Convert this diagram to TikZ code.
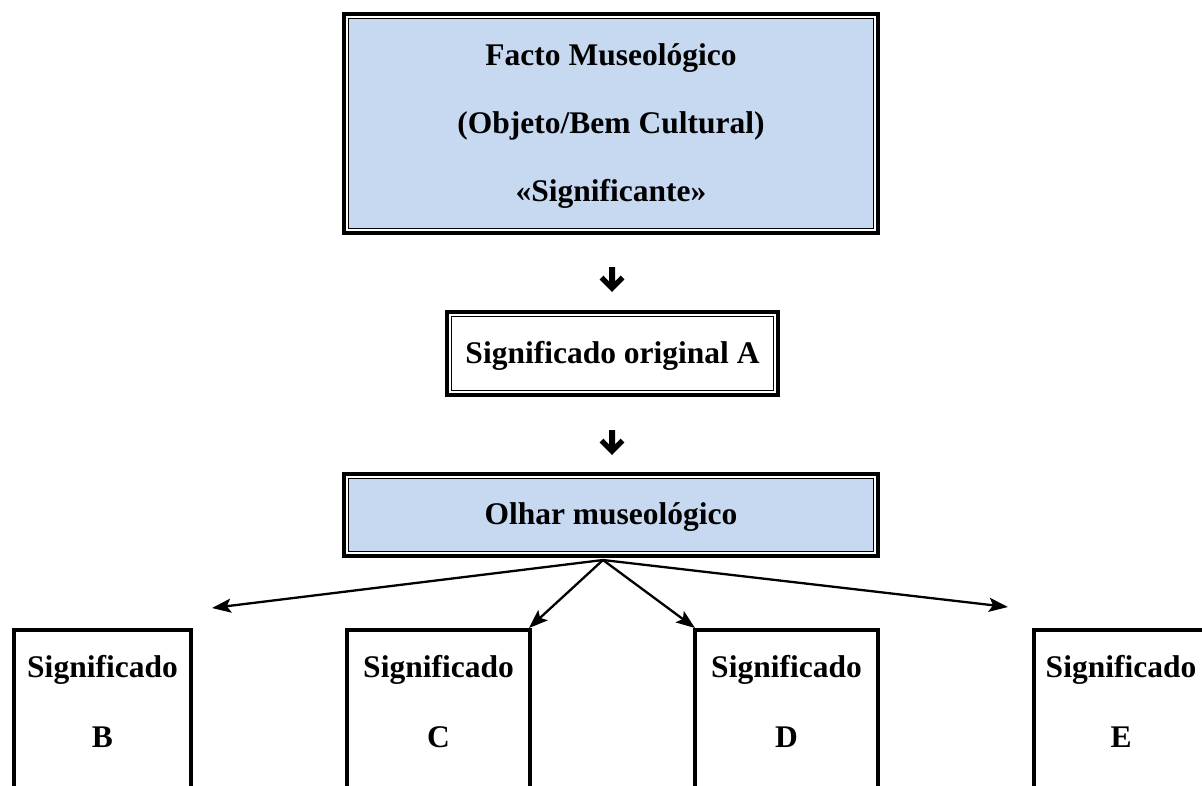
\documentclass[tikz,border=0pt]{standalone}
\usepackage{fontspec}
\setmainfont{Liberation Serif}
\usetikzlibrary{arrows.meta}
% thick outer rule drawn around a panel whose thin inner rule is the node border
\newcommand\outerframe[1]{\draw[line width=4pt] ([shift={(-4.65,-4.65)}]#1.north west) rectangle ([shift={(4.65,4.65)}]#1.south east);}
\definecolor{panelblue}{RGB}{198,217,241}
\tikzset{
  pics/downglyph/.style={code={
    \fill (-3,0) -- (3,0) -- (3,14.5) -- (8.6,8.6) -- (12.4,12.4) -- (0,25)
          -- (-12.4,12.4) -- (-8.6,8.6) -- (-3,14.5) -- cycle;}}
}
\begin{document}
\begin{tikzpicture}[x=1pt,y=-1pt,
  lbl/.style={font=\fontsize{31.5}{38}\selectfont\bfseries, anchor=base, inner sep=0, outer sep=0},
  panel/.style={draw, line width=1.3pt, outer sep=0, inner sep=0, rectangle},
  sbox/.style={draw, line width=4.5pt, outer sep=0, inner sep=0, rectangle, minimum height=200pt},
  conn/.style={line width=2.3pt, -{Stealth[length=19pt,width=14pt,inset=4pt]}}
]
\useasboundingbox (0,0) rectangle (1202,785);
\clip (0,0) rectangle (1202,785);

% top panel: the signifier
\node[panel, fill=panelblue, minimum width=524.7pt, minimum height=209.7pt] (facto) at (611,123.5) {};
\outerframe{facto}
\node[lbl] (factoA) at (611,65.5) {Facto Museológico};
\node[lbl] (factoB) at (611,133.5) {(Objeto/Bem Cultural)};
\node[lbl] (factoC) at (611,201.5) {«Significante»};

\coordinate (g1) at (612,267);
\pic at (g1) {downglyph};

% original meaning
\node[panel, minimum width=321.7pt, minimum height=73.7pt] (orig) at (612.5,353.5) {};
\outerframe{orig}
\node[lbl] (origT) at (612.5,363.5) {Significado original A};

\coordinate (g2) at (612,430);
\pic at (g2) {downglyph};

% museological gaze
\node[panel, fill=panelblue, minimum width=524.7pt, minimum height=72.7pt] (olhar) at (611,515) {};
\outerframe{olhar}
\node[lbl] (olharT) at (611,524.5) {Olhar museológico};

% derived meanings
\node[sbox, minimum width=177pt] (bB) at (102.5,730) {};
\node[sbox, minimum width=183pt] (bC) at (438.5,730) {};
\node[sbox, minimum width=183pt] (bD) at (786.5,730) {};
\node[sbox, minimum width=174pt] (bE) at (1121,730) {};

\node[lbl] (sB) at (102.5,677) {Significado};
\node[lbl] (lB) at (102.5,747) {B};
\node[lbl] (sC) at (438.5,677) {Significado};
\node[lbl] (lC) at (438.5,747) {C};
\node[lbl] (sD) at (786.5,677) {Significado};
\node[lbl] (lD) at (786.5,747) {D};
\node[lbl] (sE) at (1121,677) {Significado};
\node[lbl] (lE) at (1121,747) {E};

% fan of arrows from the gaze
\coordinate (fan) at (603,560);
\coordinate (tipB) at (212,608);
\coordinate (tipC) at (529,628);
\coordinate (tipD) at (695,628);
\coordinate (tipE) at (1008,607);
\draw[conn] (fan) -- (tipB);
\draw[conn] (fan) -- (tipC);
\draw[conn] (fan) -- (tipD);
\draw[conn] (fan) -- (tipE);
\end{tikzpicture}
\end{document}
